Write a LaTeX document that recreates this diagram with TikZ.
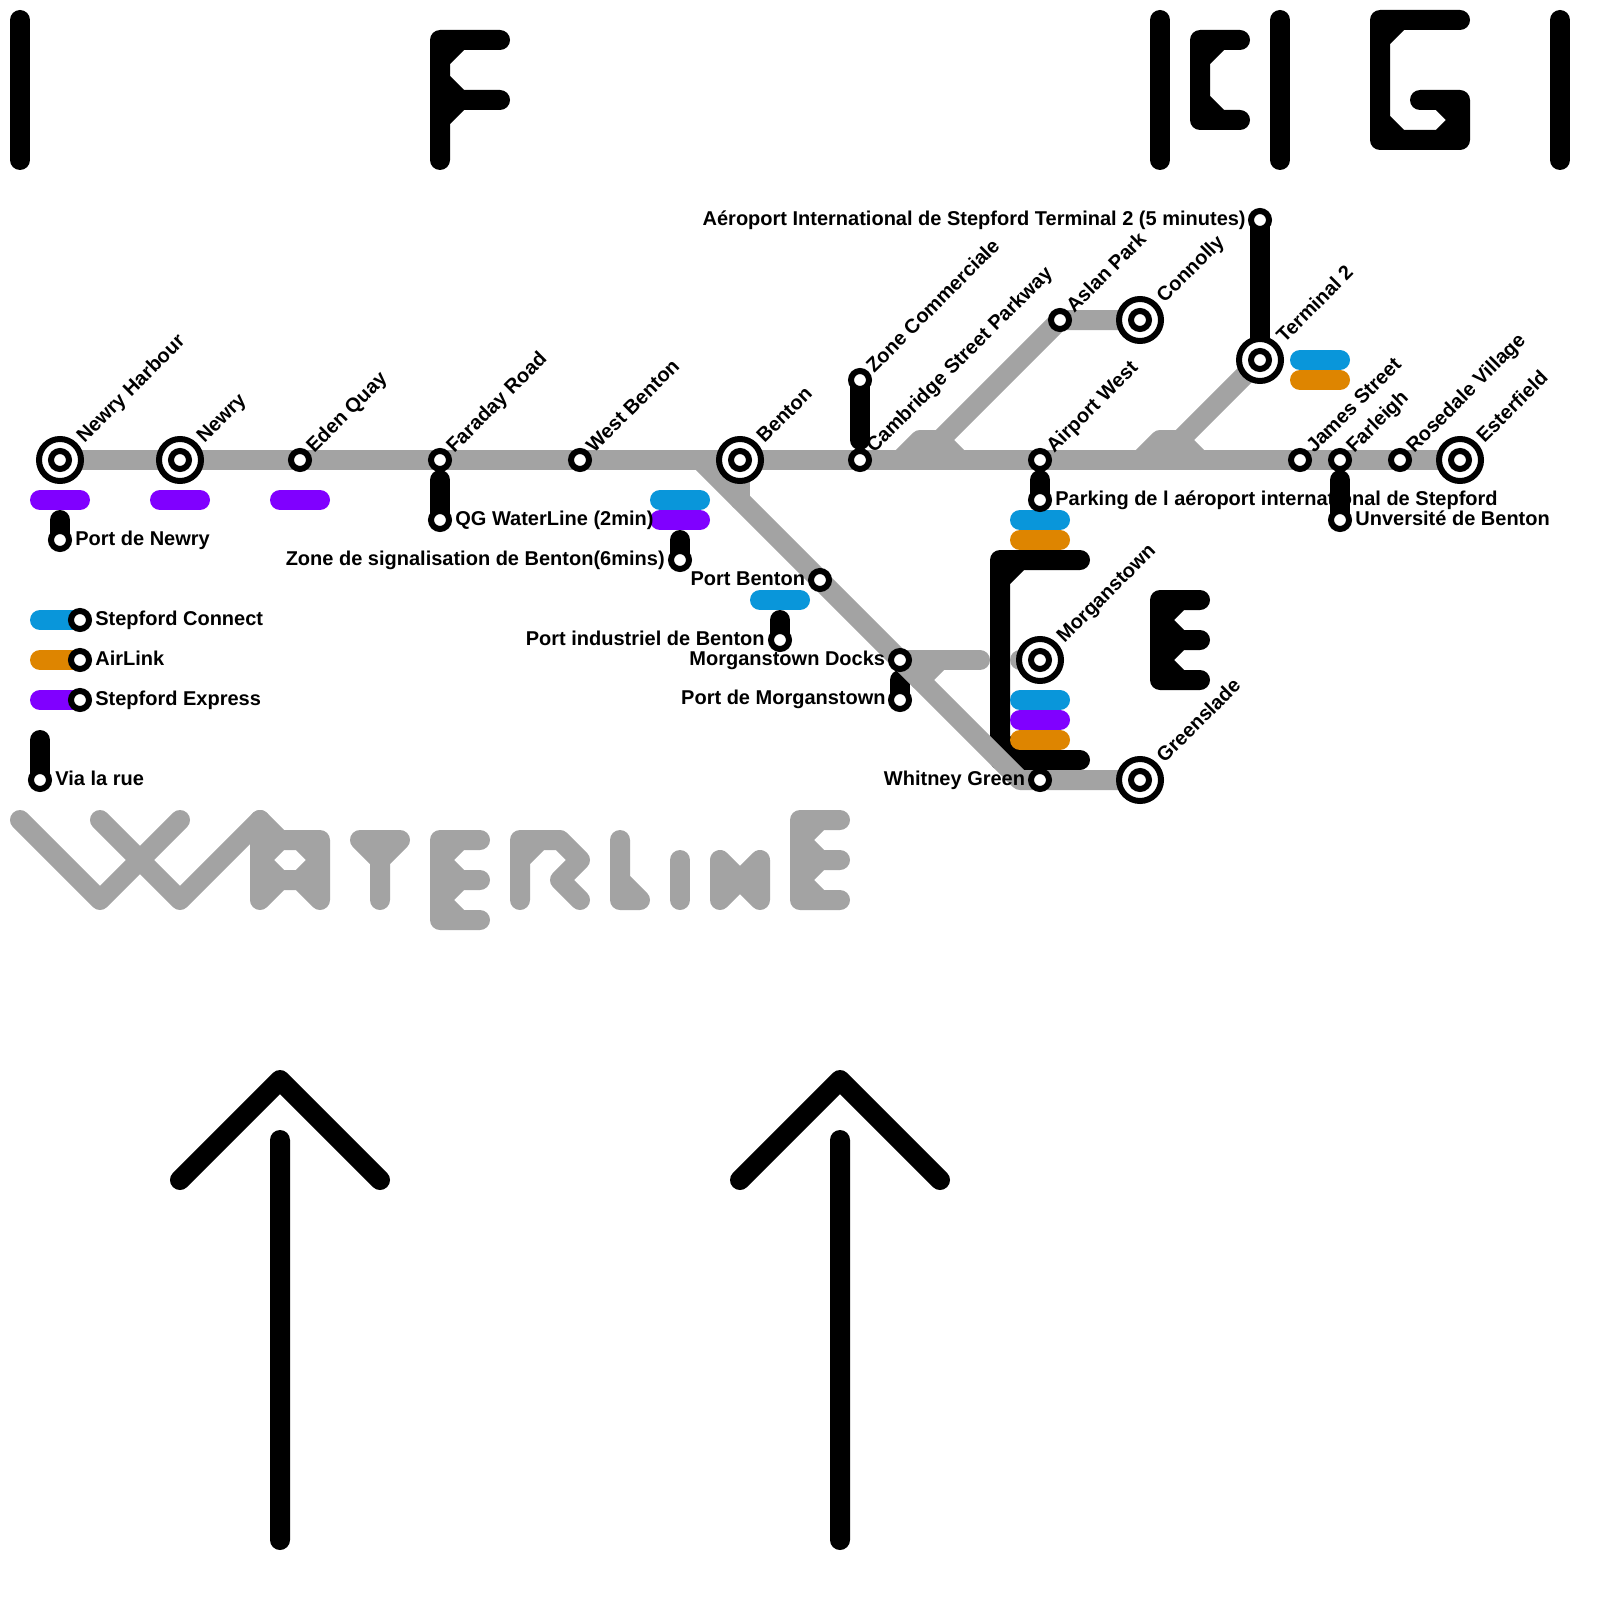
\documentclass[tikz,border=0pt]{standalone}
\usepackage{fontspec}
\setmainfont{Liberation Sans}
\usepackage{xcolor}
\usetikzlibrary{positioning}
\definecolor{linegrey}{RGB}{163,163,163}
\definecolor{connectblue}{RGB}{9,150,218}
\definecolor{airorange}{RGB}{222,133,0}
\definecolor{expresspurple}{RGB}{128,0,255}
\pgfdeclarelayer{back}
\pgfdeclarelayer{grey}
\pgfdeclarelayer{front}
\pgfsetlayers{back,grey,main,front}
\tikzset{
  trk/.style={line width=0.4cm, line cap=round, line join=round},
  blackl/.style={trk, draw=black},
  greyl/.style={trk, draw=linegrey},
  bluep/.style={trk, draw=connectblue},
  orangep/.style={trk, draw=airorange},
  purplep/.style={trk, draw=expresspurple},
  stn/.style={circle, draw=black, fill=white, line width=0.12cm, inner sep=0pt,
              outer sep=0pt, minimum size=0.36cm},
  hub/.style={stn, minimum size=0.84cm, path picture={
              \draw[black, fill=white, line width=0.12cm]
              (path picture bounding box.center) circle (0.18cm);}},
  lbl/.style={font=\fontsize{11.38}{13}\selectfont\bfseries, inner sep=0pt, anchor=base west},
  lblr/.style={lbl, anchor=base east},
  lbld/.style={lbl, rotate=45},
}
\begin{document}
\begin{tikzpicture}[x=0.4cm, y=-0.4cm]
  \useasboundingbox (0,0) rectangle (80,80);
  % stations
  \begin{pgfonlayer}{front}
    \node[hub] (harbour) at (3,23) {};
    \node[hub] (newry) at (9,23) {};
    \node[stn] (eden) at (15,23) {};
    \node[stn] (faraday) at (22,23) {};
    \node[stn] (westbenton) at (29,23) {};
    \node[hub] (benton) at (37,23) {};
    \node[stn] (cambridge) at (43,23) {};
    \node[stn] (airportw) at (52,23) {};
    \node[stn] (james) at (65,23) {};
    \node[stn] (farleigh) at (67,23) {};
    \node[stn] (rosedale) at (70,23) {};
    \node[hub] (esterfield) at (73,23) {};
    \node[stn] (zonecomm) at (43,19) {};
    \node[stn] (aslan) at (53,16) {};
    \node[hub] (connolly) at (57,16) {};
    \node[hub] (terminal) at (63,18) {};
    \node[stn] (aeroport) at (63,11) {};
    \node[stn] (portnewry) at (3,27) {};
    \node[stn] (qg) at (22,26) {};
    \node[stn] (signal) at (34,28) {};
    \node[stn] (portbenton) at (41,29) {};
    \node[stn] (portind) at (39,32) {};
    \node[stn] (docks) at (45,33) {};
    \node[stn] (portmorgan) at (45,35) {};
    \node[hub] (morgan) at (52,33) {};
    \node[stn] (whitney) at (52,39) {};
    \node[hub] (greenslade) at (57,39) {};
    \node[stn] (parking) at (52,25) {};
    \node[stn] (univ) at (67,26) {};
    \node[stn] (keyblue) at (4,31) {};
    \node[stn] (keyorange) at (4,33) {};
    \node[stn] (keypurple) at (4,35) {};
    \node[stn] (keywalk) at (2,39) {};
  \end{pgfonlayer}
  % points on the lines
  \coordinate (faraday-w) at (22,24);
  \coordinate (newry-w) at (3,26);
  \coordinate (signal-w) at (34,27);
  \coordinate (ind-w) at (39,31);
  \coordinate (morgan-w) at (45,34);
  \coordinate (airport-w) at (52,24);
  \coordinate (farleigh-w) at (67,24);
  \coordinate (zone-w) at (43,22);
  \coordinate (keywalk-w) at (2,37);
  \coordinate (fork) at (35,23);
  \coordinate (forkb) at (37,25);
  \coordinate (bend) at (51,39);
  \coordinate (pk-a) at (45,23);
  \coordinate (pk-b) at (46,22);
  \coordinate (pk-c) at (47,22);
  \coordinate (pk-d) at (48,23);
  \coordinate (tm-a) at (57,23);
  \coordinate (tm-b) at (58,22);
  \coordinate (tm-c) at (59,22);
  \coordinate (tm-d) at (60,23);
  \coordinate (dk-a) at (47,33);
  \coordinate (dk-b) at (46,34);
  \coordinate (dk-c) at (49,33);
  \coordinate (dk-d) at (51,33);
  % black letters and links
  \begin{pgfonlayer}{back}
    \draw[blackl] (1,1) -- (1,8);
    \draw[blackl] (22,8) -- (22,2) -- (25,2) (22,5) -- (25,5) (22,3) -- (23,2) (22,4) -- (23,5) -- (22,6);
    \draw[blackl] (58,1) -- (58,8);
    \draw[blackl] (62,2) -- (60,2) -- (60,6) -- (62,6) (60,3) -- (61,2) (60,5) -- (61,6);
    \draw[blackl] (64,1) -- (64,8);
    \draw[blackl] (73,1) -- (69,1) -- (69,7) -- (73,7) -- (73,5) -- (71,5) (69,2) -- (70,1) (69,6) -- (70,7) (72,5) -- (73,6) -- (72,7);
    \draw[blackl] (78,1) -- (78,8);
    \draw[blackl] (54,28) -- (50,28) -- (50,38) -- (54,38) (50,29) -- (51,28) (50,37) -- (51,38);
    \draw[blackl] (60,30) -- (58,30) -- (58,34) -- (60,34) (58,32) -- (60,32) (58,31) -- (59,30) (58,31) -- (59,32) -- (58,33) -- (59,34);
    \draw[blackl] (9,59) -- (14,54) -- (19,59) (14,57) -- (14,77);
    \draw[blackl] (37,59) -- (42,54) -- (47,59) (42,57) -- (42,77);
    \draw[blackl] (newry-w) -- (portnewry.center);
    \draw[blackl] (faraday-w) -- (qg.center);
    \draw[blackl] (signal-w) -- (signal.center);
    \draw[blackl] (ind-w) -- (portind.center);
    \draw[blackl] (morgan-w) -- (portmorgan.center);
    \draw[blackl] (airport-w) -- (parking.center);
    \draw[blackl] (zone-w) -- (zonecomm.center);
    \draw[blackl] (aeroport.center) -- (terminal.center);
    \draw[blackl] (keywalk-w) -- (keywalk.center);
  \end{pgfonlayer}
  % grey lines and letters
  \begin{pgfonlayer}{grey}
    \draw[greyl] (harbour.center) -- (esterfield.center);
    \draw[greyl] (fork) -- (bend) -- (greenslade.center);
    \draw[greyl] (benton.center) -- (forkb);
    \draw[greyl] (pk-a) -- (pk-b) -- (pk-c) -- (aslan.center) -- (connolly.center);
    \draw[greyl] (pk-c) -- (pk-d);
    \draw[greyl] (tm-a) -- (tm-b) -- (tm-c) -- (terminal.center);
    \draw[greyl] (tm-c) -- (tm-d);
    \draw[greyl] (docks.center) -- (dk-c);
    \draw[greyl] (dk-a) -- (dk-b);
    \draw[greyl] (dk-d) -- (morgan.center);
    \draw[greyl] (1,41) -- (5,45) -- (9,41) (5,41) -- (9,45) -- (13,41);
    \draw[greyl] (13,45) -- (13,41) -- (14,42) -- (16,42) -- (16,45) (13,44) -- (16,44) (13,43) -- (14,42) (13,43) -- (14,44) (16,43) -- (15,42) (16,43) -- (15,44) (13,45) -- (14,44) (15,44) -- (16,45);
    \draw[greyl] (18,42) -- (20,42) (19,42) -- (19,45) (18,42) -- (19,43) -- (20,42);
    \draw[greyl] (24,42) -- (22,42) -- (22,46) -- (24,46) (22,44) -- (24,44) (22,43) -- (23,42) (22,43) -- (23,44) -- (22,45) -- (23,46);
    \draw[greyl] (26,45) -- (26,42) -- (28,42) -- (29,43) -- (28,44) -- (29,45) (26,43) -- (27,42);
    \draw[greyl] (31,42) -- (31,45) -- (32,45) (31,44) -- (32,45);
    \draw[greyl] (34,43) -- (34,45);
    \draw[greyl] (36,45) -- (36,43) -- (37,44) -- (38,43) -- (38,45) (36,45) -- (37,44) -- (38,45);
    \draw[greyl] (42,41) -- (40,41) -- (40,45) -- (42,45) (40,43) -- (42,43) (40,42) -- (41,41) (40,42) -- (41,43) -- (40,44) -- (41,45);
  \end{pgfonlayer}
  % service pills
  \draw[purplep] (2,25) -- (4,25);
  \draw[purplep] (8,25) -- (10,25);
  \draw[purplep] (14,25) -- (16,25);
  \draw[bluep] (33,25) -- (35,25);
  \draw[purplep] (33,26) -- (35,26);
  \draw[bluep] (38,30) -- (40,30);
  \draw[bluep] (51,26) -- (53,26);
  \draw[orangep] (51,27) -- (53,27);
  \draw[bluep] (51,35) -- (53,35);
  \draw[purplep] (51,36) -- (53,36);
  \draw[orangep] (51,37) -- (53,37);
  \draw[bluep] (65,18) -- (67,18);
  \draw[orangep] (65,19) -- (67,19);
  \draw[bluep] (2,31) -- (keyblue.center);
  \draw[orangep] (2,33) -- (keyorange.center);
  \draw[purplep] (2,35) -- (keypurple.center);
  % labels
  \node[lbld] (l-harbour) at (4.22,22.2) {Newry Harbour};
  \node[lbld] (l-newry) at (10.22,22.2) {Newry};
  \node[lbld] (l-eden) at (15.7,22.7) {Eden Quay};
  \node[lbld] (l-faraday) at (22.7,22.7) {Faraday Road};
  \node[lbld] (l-west) at (29.7,22.7) {West Benton};
  \node[lbld] (l-benton) at (38.22,22.2) {Benton};
  \node[lbld] (l-cambridge) at (43.7,22.7) {Cambridge Street Parkway};
  \node[lbld] (l-zone) at (43.7,18.7) {Zone Commerciale};
  \node[lbld] (l-aslan) at (53.7,15.7) {Aslan Park};
  \node[lbld] (l-connolly) at (58.22,15.2) {Connolly};
  \node[lbld] (l-airport) at (52.7,22.7) {Airport West};
  \node[lbld] (l-terminal) at (64.22,17.2) {Terminal 2};
  \node[lbld] (l-james) at (65.7,22.7) {James Street};
  \node[lbld] (l-farleigh) at (67.7,22.7) {Farleigh};
  \node[lbld] (l-rosedale) at (70.7,22.7) {Rosedale Village};
  \node[lbld] (l-esterfield) at (74.22,22.2) {Esterfield};
  \node[lbld] (l-morgan) at (53.22,32.2) {Morganstown};
  \node[lbld] (l-greenslade) at (58.22,38.2) {Greenslade};
  \node[lbl] (l-portnewry) at (3.75,27.25) {Port de Newry};
  \node[lbl] (l-qg) at (22.75,26.25) {QG WaterLine (2min)};
  \node[lbl] (l-parking) at (52.75,25.25) {Parking de l aéroport international de Stepford};
  \node[lbl] (l-univ) at (67.75,26.25) {Unversité de Benton};
  \node[lblr] (l-aeroport) at (62.3,11.25) {Aéroport International de Stepford Terminal 2 (5 minutes)};
  \node[lblr] (l-signal) at (33.25,28.25) {Zone de signalisation de Benton(6mins)};
  \node[lblr] (l-portbenton) at (40.27,29.25) {Port Benton};
  \node[lblr] (l-portind) at (38.25,32.25) {Port industriel de Benton};
  \node[lblr] (l-docks) at (44.27,33.25) {Morganstown Docks};
  \node[lblr] (l-portmorgan) at (44.3,35.2) {Port de Morganstown};
  \node[lblr] (l-whitney) at (51.27,39.25) {Whitney Green};
  \node[lbl] (l-keyblue) at (4.75,31.25) {Stepford Connect};
  \node[lbl] (l-keyorange) at (4.75,33.25) {AirLink};
  \node[lbl] (l-keypurple) at (4.75,35.25) {Stepford Express};
  \node[lbl] (l-keywalk) at (2.75,39.25) {Via la rue};
  % this link runs over the parking label
  \draw[blackl] (farleigh-w) -- (univ.center);
\end{tikzpicture}
\end{document}
